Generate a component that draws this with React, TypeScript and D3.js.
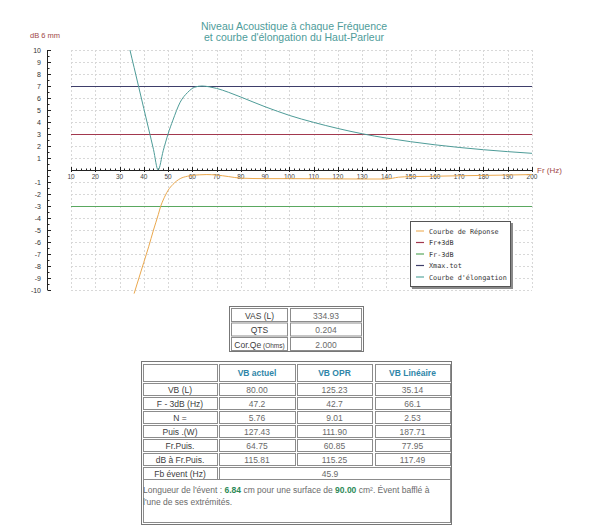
import React from 'react';
import * as d3 from 'd3';

const xTickValues = [10, 20, 30, 40, 50, 60, 70, 80, 90, 100, 110, 120, 130, 140, 150, 160, 170, 180, 190, 200];
const yTickValues = [10, 9, 8, 7, 6, 5, 4, 3, 2, 1, -1, -2, -3, -4, -5, -6, -7, -8, -9, -10];

const elongFreq = [33, 34.3, 36, 38, 40, 42, 44, 45.9, 48, 50, 52, 55, 58, 61, 64, 67, 70, 75, 80, 85, 90, 95, 100, 110, 120, 130, 140, 150, 160, 170, 180, 190, 200];
const elongVals = [11.2, 10, 8.55, 6.84, 5.13, 3.42, 1.71, 0, 1.6, 3.0, 4.15, 5.65, 6.45, 6.9, 7.0, 6.93, 6.8, 6.47, 6.08, 5.67, 5.27, 4.9, 4.55, 3.97, 3.46, 3.02, 2.66, 2.36, 2.1, 1.88, 1.69, 1.53, 1.39];

const respFreq = [36, 38, 40, 42, 44, 46, 47, 48, 50, 52, 55, 58, 60, 63, 66, 70, 75, 80, 90, 100, 110, 120, 130, 140, 145, 150, 160, 170, 180, 190, 200];
const respVals = [-10.3, -9.0, -7.7, -6.4, -5.0, -3.7, -3.0, -2.5, -1.7, -1.2, -0.72, -0.52, -0.45, -0.4, -0.38, -0.42, -0.55, -0.68, -0.72, -0.72, -0.73, -0.74, -0.75, -0.75, -0.6, -0.55, -0.52, -0.48, -0.45, -0.42, -0.38];

const xmaxLevel = 7;
const plus3Level = 3;
const minus3Level = -3;

const legendLabels = ['Courbe de Réponse', 'Fr+3dB', 'Fr-3dB', 'Xmax.tot', "Courbe d'élongation"];
const legendColors = ['#eeb464', '#a2384e', '#5aa860', '#3e3e6a', '#5aa8a0'];

const vasLabels = ['VAS (L)', 'QTS', 'Cor.Qe'];
const vasValues = ['334.93', '0.204', '2.000'];

const colHeaders = ['VB actuel', 'VB OPR', 'VB Linéaire'];
const rowLabels = ['VB (L)', 'F - 3dB (Hz)', 'N =', 'Puis .(W)', 'Fr.Puis.', 'dB à Fr.Puis.'];
const vbActuel = ['80.00', '47.2', '5.76', '127.43', '64.75', '115.81'];
const vbOpr = ['125.23', '42.7', '9.01', '111.90', '60.85', '115.25'];
const vbLineaire = ['35.14', '66.1', '2.53', '187.71', '77.95', '117.49'];
const fbLabel = 'Fb évent (Hz)';
const fbValue = '45.9';
const ventLength = '6.84';
const ventSurface = '90.00';

const FONT = '"Liberation Sans", Arial, sans-serif';

export default function App() {
  const x = d3.scaleLinear().domain([10, 200]).range([71, 532]);
  const y = d3.scaleLinear().domain([-10, 10]).range([290, 50]);

  const elongLine = d3.line<number>().x((_, i) => x(elongFreq[i])).y((d) => y(d)).curve(d3.curveMonotoneX);
  const respLine = d3.line<number>().x((_, i) => x(respFreq[i])).y((d) => y(d)).curve(d3.curveMonotoneX);

  const minorX = d3.range(10, 201, 2);
  const minorY = d3.range(-10, 10.01, 0.5);
  const gridY = d3.range(-10, 11, 1);

  const cols = [[143, 217], [219, 295], [297, 372], [375, 450]];
  const colData = [vbActuel, vbOpr, vbLineaire];
  const rowTop = (i: number) => 383 + 14 * i;

  const cellStroke = '#8c8c8c';
  const valColor = '#6a6a6a';
  const labColor = '#3c3c3c';

  return (
    <svg width={600} height={529} style={{ position: 'absolute', left: 0, top: 0, background: '#fff' }} fontFamily={FONT}>
      <rect x={0} y={0} width={600} height={529} fill="#fff" />
      {/* title */}
      <text x={294} y={30} textAnchor="middle" fontSize={10.5} fill="#4e9c9a">Niveau Acoustique à chaque Fréquence</text>
      <text x={294} y={41} textAnchor="middle" fontSize={10.5} fill="#4e9c9a">et courbe d'élongation du Haut-Parleur</text>
      <text x={30} y={38} fontSize={7.5} fill="#a04848">dB 6 mm</text>

      {/* grid */}
      <g stroke="#d8d8d8" strokeWidth={1} strokeDasharray="2,2">
        {gridY.map((v) => (
          <line key={'gy' + v} x1={71} x2={532} y1={y(v) + 0.5} y2={y(v) + 0.5} />
        ))}
        {xTickValues.map((v) => (
          <line key={'gx' + v} x1={Math.round(x(v)) + 0.5} x2={Math.round(x(v)) + 0.5} y1={50} y2={290} />
        ))}
      </g>

      {/* y axis */}
      <line x1={47.5} x2={47.5} y1={50} y2={290} stroke="#222" />
      {minorY.map((v) => (
        <line key={'my' + v} x1={47.5} x2={Number.isInteger(v) ? 51 : 49.5} y1={Math.round(y(v)) + 0.5} y2={Math.round(y(v)) + 0.5} stroke="#222" />
      ))}
      {yTickValues.map((v) => (
        <text key={'yl' + v} x={41} y={y(v) + 2.5} textAnchor="end" fontSize={7} fill="#333">{v}</text>
      ))}

      {/* x axis */}
      <line x1={71} x2={532} y1={170.5} y2={170.5} stroke="#222" />
      {minorX.map((v) => (
        <line key={'mx' + v} x1={Math.round(x(v)) + 0.5} x2={Math.round(x(v)) + 0.5} y1={v % 10 === 0 ? 167 : 168.5} y2={v % 10 === 0 ? 172 : 170.5} stroke="#222" />
      ))}
      {xTickValues.map((v) => (
        <text key={'xl' + v} x={x(v)} y={178.5} textAnchor="middle" fontSize={6.5} fill="#444">{v}</text>
      ))}
      <text x={537} y={173} fontSize={8} fill="#a04848">Fr (Hz)</text>

      {/* horizontal reference lines */}
      <line x1={71} x2={532} y1={y(xmaxLevel) + 0.5} y2={y(xmaxLevel) + 0.5} stroke={legendColors[3]} />
      <line x1={71} x2={532} y1={y(plus3Level) + 0.5} y2={y(plus3Level) + 0.5} stroke={legendColors[1]} />
      <line x1={71} x2={532} y1={y(minus3Level) + 0.5} y2={y(minus3Level) + 0.5} stroke={legendColors[2]} />

      <defs>
        <clipPath id="plotclip">
          <rect x={60} y={50} width={480} height={244} />
        </clipPath>
      </defs>
      <g clipPath="url(#plotclip)" fill="none">
        <path d={respLine(respVals) || ''} stroke="#eaa84e" strokeWidth={1} />
        <path d={elongLine(elongVals) || ''} stroke="#4e9c98" strokeWidth={1} />
      </g>

      {/* legend */}
      <rect x={412} y={223} width={101} height={66} fill="#8a8a8a" />
      <rect x={410.5} y={221.5} width={100} height={65} fill="#fff" stroke="#555" />
      {legendLabels.map((l, i) => (
        <g key={'lg' + i}>
          <line x1={416} x2={424} y1={231 + 11.5 * i} y2={231 + 11.5 * i} stroke={legendColors[i]} strokeWidth={1.2} />
          <text x={429} y={233.5 + 11.5 * i} fontSize={6.8} fontFamily='"DejaVu Sans Mono", monospace' fill="#333">{l}</text>
        </g>
      ))}

      {/* VAS table */}
      <rect x={229.5} y={306.5} width={134} height={45} fill="#fff" stroke="#777" />
      {vasLabels.map((l, i) => (
        <g key={'vas' + i}>
          <rect x={231.5} y={308.5 + 14.5 * i} width={56} height={13} fill="#fff" stroke={cellStroke} />
          <rect x={290.5} y={308.5 + 14.5 * i} width={71} height={13} fill="#fff" stroke={cellStroke} />
          <text x={259.5} y={318.5 + 14.5 * i} textAnchor="middle" fontSize={8.5} fill={labColor}>
            {l}
            {i === 2 ? <tspan fontSize={6.5}> (Ohms)</tspan> : null}
          </text>
          <text x={326} y={318.5 + 14.5 * i} textAnchor="middle" fontSize={8.5} fill={valColor}>{vasValues[i]}</text>
        </g>
      ))}

      {/* main table */}
      <rect x={141.5} y={361.5} width={310} height={163} fill="#fff" stroke="#777" />
      {cols.map((c, j) => (
        <rect key={'h' + j} x={c[0] + 0.5} y={364.5} width={c[1] - c[0]} height={17} fill="#fff" stroke={cellStroke} />
      ))}
      {colHeaders.map((h, j) => (
        <text key={'ht' + j} x={(cols[j + 1][0] + cols[j + 1][1]) / 2} y={376} textAnchor="middle" fontSize={8.5} fontWeight="bold" fill="#2f86a8">{h}</text>
      ))}
      {rowLabels.map((l, i) => (
        <g key={'r' + i}>
          {cols.map((c, j) => (
            <rect key={'c' + j} x={c[0] + 0.5} y={rowTop(i) + 0.5} width={c[1] - c[0]} height={12} fill="#fff" stroke={cellStroke} />
          ))}
          <text x={180} y={rowTop(i) + 9.5} textAnchor="middle" fontSize={8.5} fill={labColor}>{l}</text>
          {colData.map((arr, j) => (
            <text key={'v' + j} x={(cols[j + 1][0] + cols[j + 1][1]) / 2} y={rowTop(i) + 9.5} textAnchor="middle" fontSize={8.5} fill={valColor}>{arr[i]}</text>
          ))}
        </g>
      ))}
      <rect x={143.5} y={rowTop(6) + 0.5} width={74} height={12} fill="#fff" stroke={cellStroke} />
      <rect x={219.5} y={rowTop(6) + 0.5} width={231} height={12} fill="#fff" stroke={cellStroke} />
      <text x={180} y={rowTop(6) + 9.5} textAnchor="middle" fontSize={8.5} fill={labColor}>{fbLabel}</text>
      <text x={330} y={rowTop(6) + 9.5} textAnchor="middle" fontSize={8.5} fill={valColor}>{fbValue}</text>

      <rect x={143.5} y={479.5} width={307} height={43} fill="#fff" stroke={cellStroke} />
      <text x={143} y={493} fontSize={8.5} fill={valColor}>
        Longueur de l'évent : <tspan fontWeight="bold" fill="#2e8a58">{ventLength}</tspan> cm pour une surface de <tspan fontWeight="bold" fill="#2e8a58">{ventSurface}</tspan> cm². Évent bafflé à
      </text>
      <text x={143} y={505} fontSize={8.5} fill={valColor}>l'une de ses extrémités.</text>
    </svg>
  );
}
